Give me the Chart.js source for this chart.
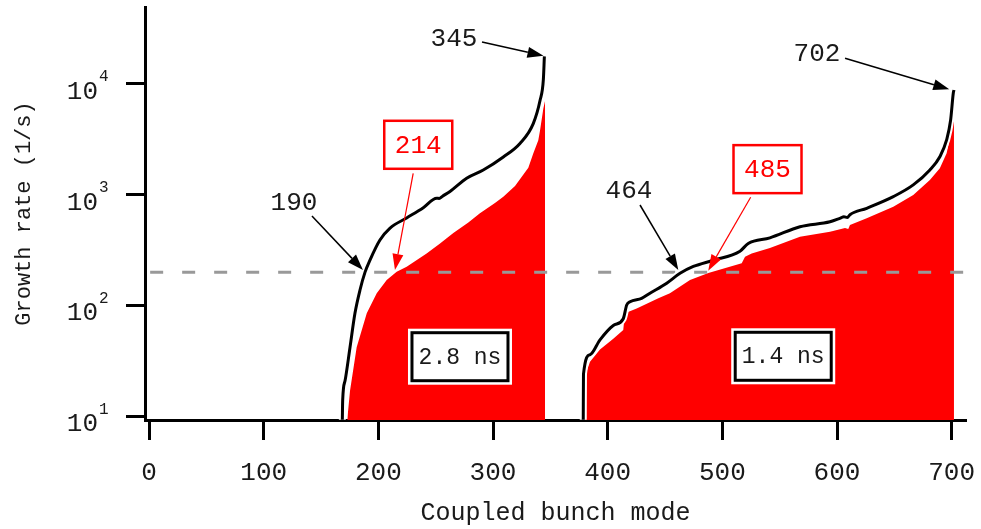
<!DOCTYPE html>
<html>
<head>
<meta charset="utf-8">
<script src="https://cdn.jsdelivr.net/npm/chart.js@4.4.1/dist/chart.umd.min.js"></script>
<style>
    html, body { margin: 0; padding: 0; background: #fff; }
</style>
</head>
<body>
<canvas id="grafico" width="981" height="529"></canvas>
<script>
// Ejes
const xTicks = [0, 100, 200, 300, 400, 500, 600, 700];
const yTicks = [10, 100, 1000, 10000];
const umbral = 200;
const umbralModos = [1, 712];

// Espaciado 2.8 ns (modos 168-345)
const modos28Negro = [168.6, 168.9, 171, 175.3, 179.6, 184, 188.4, 192.7, 201.4, 210.2, 224.7, 239.2, 250.9, 253, 256, 262.5, 277, 291.5, 309, 323.5, 335.1, 341, 343.9, 344.8];
const tasa28Negro = [9.3, 14, 21, 42, 85, 138, 200, 257, 390, 500, 617, 763, 930, 925, 970, 1070, 1410, 1670, 2190, 2900, 4380, 7070, 10900, 17700];
const modos28Rojo = [172.9, 175.3, 181.1, 189.9, 198.6, 207.3, 216, 224.7, 242.1, 253.8, 265.4, 278.5, 288.6, 301.7, 309, 319.2, 330.8, 335.1, 339.5, 341, 343.9, 345.4];
const tasa28Rojo = [9.3, 17, 42, 85, 129, 170, 202, 224, 295, 363, 450, 560, 680, 840, 960, 1200, 1750, 2350, 3100, 3800, 6000, 7050];

// Espaciado 1.4 ns (modos 378-702)
const modos14Negro = [378.7, 378.9, 384.6, 393.3, 404.9, 413.6, 416.6, 419.5, 429.6, 436.9, 451.5, 463.1, 474.7, 492.1, 515.4, 522.6, 541.5, 567.7, 593.9, 603, 606, 609, 611.3, 625.9, 649.1, 666.5, 681, 689.7, 695.6, 699.1, 701.4, 702];
const tasa14Negro = [9.3, 24, 36, 49, 66, 76, 101, 108, 116, 129, 159, 195, 225, 256, 309, 363, 408, 514, 570, 615, 632, 622, 660, 754, 960, 1225, 1670, 2200, 3120, 4720, 8220, 8810];
const modos14Rojo = [380.2, 381.1, 384.6, 393.3, 404.9, 413.6, 415, 425.3, 444.2, 454.3, 471.8, 487.8, 516.9, 519.8, 525.6, 541.5, 567.7, 593.9, 607, 609.8, 611.3, 625.9, 649.1, 666.5, 681, 689.7, 695.6, 700, 702];
const tasa14Rojo = [9.3, 24.5, 31, 40, 50, 60, 85, 94, 116, 129, 170, 196, 240, 275, 295, 331, 418, 463, 500, 490, 533, 612, 780, 993, 1360, 1730, 2370, 3840, 7160];

// Anotaciones (coordenadas en datos)
const notas = [
    { texto: '345', color: '#000', caja: false, etiqueta: [266, 25900], desde: [290.4, 23900], hasta: [344, 17900] },
    { texto: '190', color: '#000', caja: false, etiqueta: [126.4, 860], desde: [142.1, 643], hasta: [186.6, 209] },
    { texto: '214', color: '#ff0000', caja: true, etiqueta: [234.8, 2820], desde: [230.4, 1560], hasta: [214.5, 209] },
    { texto: '464', color: '#000', caja: false, etiqueta: [418.6, 1090], desde: [428.2, 807], hasta: [461.6, 209] },
    { texto: '485', color: '#ff0000', caja: true, etiqueta: [539.4, 1700], desde: [524.7, 949], hasta: [487.7, 206] },
    { texto: '702', color: '#000', caja: false, etiqueta: [582.5, 19000], desde: [607, 17000], hasta: [697.9, 8930] },
];
const cajasNs = [
    { texto: '2.8 ns', centro: [271.2, 34.5] },
    { texto: '1.4 ns', centro: [553.1, 34.8] },
];

const FUENTE = "'Courier New', 'Liberation Mono', monospace";
const TEXTO = '#1a1a1a';

function puntos(xs, ys) {
    return xs.map((x, i) => ({ x: x, y: ys[i] }));
}

function serieRoja(xs, ys) {
    return { data: puntos(xs, ys), borderWidth: 0, backgroundColor: '#ff0000', fill: 'start', pointRadius: 0, order: 4 };
}
function serieHalo(xs, ys) {
    return { data: puntos(xs, ys), borderColor: '#ffffff', borderWidth: 7, fill: false, pointRadius: 0, cubicInterpolationMode: 'monotone', order: 1 };
}
function serieNegra(xs, ys) {
    return { data: puntos(xs, ys), borderColor: '#000000', borderWidth: 3, fill: false, pointRadius: 0, cubicInterpolationMode: 'monotone', order: 0 };
}

// Quitar el relleno automático que Chart.js reserva para las etiquetas
function fijarTamano(s, ancho, alto) {
    if (ancho) s.width = ancho;
    if (alto) s.height = alto;
    s.paddingTop = 0; s.paddingBottom = 0; s.paddingLeft = 0; s.paddingRight = 0;
}

// Flecha con punta rellena
function flecha(ctx, x1, y1, x2, y2, color, grosor) {
    const ang = Math.atan2(y2 - y1, x2 - x1);
    const largo = 16, ancho = 5.5;
    const bx = x2 - largo * Math.cos(ang), by = y2 - largo * Math.sin(ang);
    ctx.strokeStyle = color;
    ctx.fillStyle = color;
    ctx.lineWidth = grosor;
    ctx.beginPath();
    ctx.moveTo(x1, y1);
    ctx.lineTo(bx, by);
    ctx.stroke();
    ctx.beginPath();
    ctx.moveTo(x2, y2);
    ctx.lineTo(bx + ancho * Math.sin(ang), by - ancho * Math.cos(ang));
    ctx.lineTo(bx - ancho * Math.sin(ang), by + ancho * Math.cos(ang));
    ctx.closePath();
    ctx.fill();
}

const anotaciones = {
    id: 'anotaciones',
    afterDatasetsDraw(chart) {
        const ctx = chart.ctx;
        const sx = chart.scales.x, sy = chart.scales.y;
        ctx.save();
        ctx.textAlign = 'center';
        ctx.textBaseline = 'middle';

        // Cajas de espaciado
        cajasNs.forEach(c => {
            const cx = sx.getPixelForValue(c.centro[0]);
            const cy = sy.getPixelForValue(c.centro[1]);
            ctx.fillStyle = '#fff';
            ctx.fillRect(cx - 52, cy - 28, 104, 56);
            ctx.strokeStyle = '#000';
            ctx.lineWidth = 3;
            ctx.strokeRect(cx - 48, cy - 24, 96, 48);
            ctx.fillStyle = TEXTO;
            ctx.font = '23px ' + FUENTE;
            ctx.fillText(c.texto, cx, cy + 1);
        });

        notas.forEach(n => {
            const ex = sx.getPixelForValue(n.etiqueta[0]);
            const ey = sy.getPixelForValue(n.etiqueta[1]);
            if (n.caja) {
                ctx.fillStyle = '#fff';
                ctx.fillRect(ex - 34, ey - 24, 68, 48);
                ctx.strokeStyle = n.color;
                ctx.lineWidth = 2.5;
                ctx.strokeRect(ex - 34, ey - 24, 68, 48);
            }
            ctx.fillStyle = n.caja ? n.color : TEXTO;
            ctx.font = '26px ' + FUENTE;
            ctx.fillText(n.texto, ex, ey + 1);
            flecha(ctx,
                sx.getPixelForValue(n.desde[0]), sy.getPixelForValue(n.desde[1]),
                sx.getPixelForValue(n.hasta[0]), sy.getPixelForValue(n.hasta[1]),
                n.color, n.caja ? 1.2 : 1.5);
        });
        ctx.restore();
    },
    // Exponentes de las etiquetas del eje y
    afterDraw(chart) {
        const ctx = chart.ctx;
        const sy = chart.scales.y;
        ctx.save();
        ctx.fillStyle = TEXTO;
        ctx.font = '16px ' + FUENTE;
        ctx.textAlign = 'left';
        ctx.textBaseline = 'middle';
        yTicks.forEach(v => {
            ctx.fillText(String(Math.round(Math.log10(v))), 99, sy.getPixelForValue(v) - 7);
        });
        ctx.restore();
    }
};

new Chart(document.getElementById('grafico'), {
    type: 'line',
    data: {
        datasets: [
            serieNegra(modos28Negro, tasa28Negro),
            serieNegra(modos14Negro, tasa14Negro),
            serieHalo(modos28Negro, tasa28Negro),
            serieHalo(modos14Negro, tasa14Negro),
            {
                data: umbralModos.map(x => ({ x: x, y: umbral })),
                borderColor: '#999999', borderWidth: 3, borderDash: [13, 19],
                fill: false, pointRadius: 0, order: 2
            },
            serieRoja(modos28Rojo, tasa28Rojo),
            serieRoja(modos14Rojo, tasa14Rojo),
        ]
    },
    options: {
        responsive: false,
        animation: false,
        events: [],
        layout: { padding: { top: 7, right: 15, left: 0, bottom: 0 } },
        plugins: { legend: { display: false }, tooltip: { enabled: false } },
        scales: {
            x: {
                type: 'linear',
                min: -3.5,
                max: 712.5,
                afterBuildTicks: s => { s.ticks = xTicks.map(v => ({ value: v })); },
                afterFit: s => fijarTamano(s, 0, 109),
                grid: { drawOnChartArea: false, tickLength: 20, tickWidth: 3, tickColor: '#000' },
                border: { display: true, color: '#000', width: 3 },
                ticks: { color: TEXTO, font: { family: FUENTE, size: 26 }, padding: 18, maxRotation: 0 },
                title: { display: true, text: 'Coupled bunch mode', color: TEXTO, font: { family: FUENTE, size: 25, lineHeight: 1 }, padding: { top: 0, bottom: 3 } }
            },
            y: {
                type: 'logarithmic',
                min: 9.26,
                max: 49400,
                afterBuildTicks: s => { s.ticks = yTicks.map(v => ({ value: v })); },
                afterFit: s => fijarTamano(s, 145, 0),
                grid: { drawOnChartArea: false, tickLength: 19, tickWidth: 3, tickColor: '#000' },
                border: { display: true, color: '#000', width: 3 },
                ticks: {
                    color: TEXTO, font: { family: FUENTE, size: 26 }, padding: 28, labelOffset: 8,
                    callback: () => '10'
                },
                title: { display: true, text: 'Growth rate (1/s)', color: TEXTO, font: { family: FUENTE, size: 22, lineHeight: 1 }, padding: { top: 13, bottom: 0 } }
            }
        }
    },
    plugins: [anotaciones]
});
</script>
</body>
</html>
